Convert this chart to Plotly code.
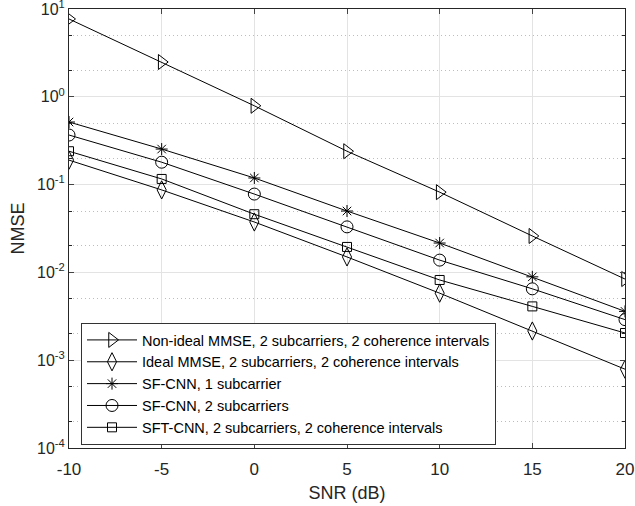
import plotly.graph_objects as go

snr = [-10, -5, 0, 5, 10, 15, 20]
nonideal_mmse = [7.7, 2.49, 0.79, 0.24, 0.082, 0.026, 0.0084]
ideal_mmse = [0.19, 0.087, 0.0375, 0.015, 0.0058, 0.00215, 0.00079]
sfcnn_1 = [0.516, 0.254, 0.119, 0.050, 0.0216, 0.0089, 0.0036]
sfcnn_2 = [0.367, 0.18, 0.078, 0.033, 0.0138, 0.0065, 0.0029]
sftcnn = [0.24, 0.116, 0.046, 0.0195, 0.0082, 0.0041, 0.00204]

names = [
    "Non-ideal MMSE, 2 subcarriers, 2 coherence intervals",
    "Ideal MMSE, 2 subcarriers, 2 coherence intervals",
    "SF-CNN, 1 subcarrier",
    "SF-CNN, 2 subcarriers",
    "SFT-CNN, 2 subcarriers, 2 coherence intervals",
]
series = [nonideal_mmse, ideal_mmse, sfcnn_1, sfcnn_2, sftcnn]
symbols = ["triangle-right-open", "diamond-tall-open", "asterisk-open", "circle-open", "square-open"]
sizes = [13, 13, 10, 12, 9]

y_tickvals = [1e-4, 1e-3, 1e-2, 1e-1, 1e0, 1e1]
y_ticktext = ["10<sup>-4</sup>", "10<sup>-3</sup>", "10<sup>-2</sup>", "10<sup>-1</sup>", "10<sup>0</sup>", "10<sup>1</sup>"]
x_tickvals = [-10, -5, 0, 5, 10, 15, 20]
x_ticktext = ["-10", "-5", "0", "5", "10", "15", "20"]

fig = go.Figure()
for nm, ys, sym, sz in zip(names, series, symbols, sizes):
    fig.add_trace(go.Scatter(
        x=snr, y=ys, name=nm, mode="lines+markers",
        line=dict(color="black", width=1),
        marker=dict(symbol=sym, size=sz, color="black", line=dict(color="black", width=1)),
    ))

fig.update_layout(
    width=635, height=506,
    margin=dict(l=69, r=10, t=9, b=58, autoexpand=False),
    plot_bgcolor="white", paper_bgcolor="white",
    font=dict(family="Liberation Sans, Arial, sans-serif", size=17, color="#262626"),
    legend=dict(
        x=0.0216, y=0.1458, xanchor="left", yanchor="middle",
        bgcolor="white", bordercolor="#333333", borderwidth=1,
        font=dict(size=14.5, color="black"), itemwidth=50,
        tracegroupgap=0,
    ),
    showlegend=True,
)
fig.update_xaxes(
    range=[-10, 20], tickvals=x_tickvals, ticktext=x_ticktext, ticks="inside", ticklen=5,
    showline=True, linecolor="#262626", linewidth=1, mirror="ticks",
    showgrid=True, gridcolor="#e3e3e3", gridwidth=1, zeroline=False,
    title=dict(text="SNR (dB)", font=dict(size=18), standoff=7),
    tickfont=dict(size=17), ticklabelstandoff=6, automargin=False,
    ticklabeloverflow="allow",
)
fig.update_yaxes(
    type="log", range=[-4, 1], tickvals=y_tickvals, ticktext=y_ticktext,
    ticks="inside", ticklen=5,
    showline=True, linecolor="#262626", linewidth=1, mirror="ticks",
    showgrid=True, gridcolor="#e3e3e3", gridwidth=1, zeroline=False,
    minor=dict(ticks="inside", ticklen=3, showgrid=True, gridcolor="#bdbdbd",
               griddash="1px,3px", tickcolor="#262626"),
    title=dict(text="NMSE", font=dict(size=18), standoff=7),
    tickfont=dict(size=16), automargin=False, ticklabeloverflow="allow",
)

fig.write_html("out.html", config={"displayModeBar": False},
               post_script="document.body.style.margin='0';")
